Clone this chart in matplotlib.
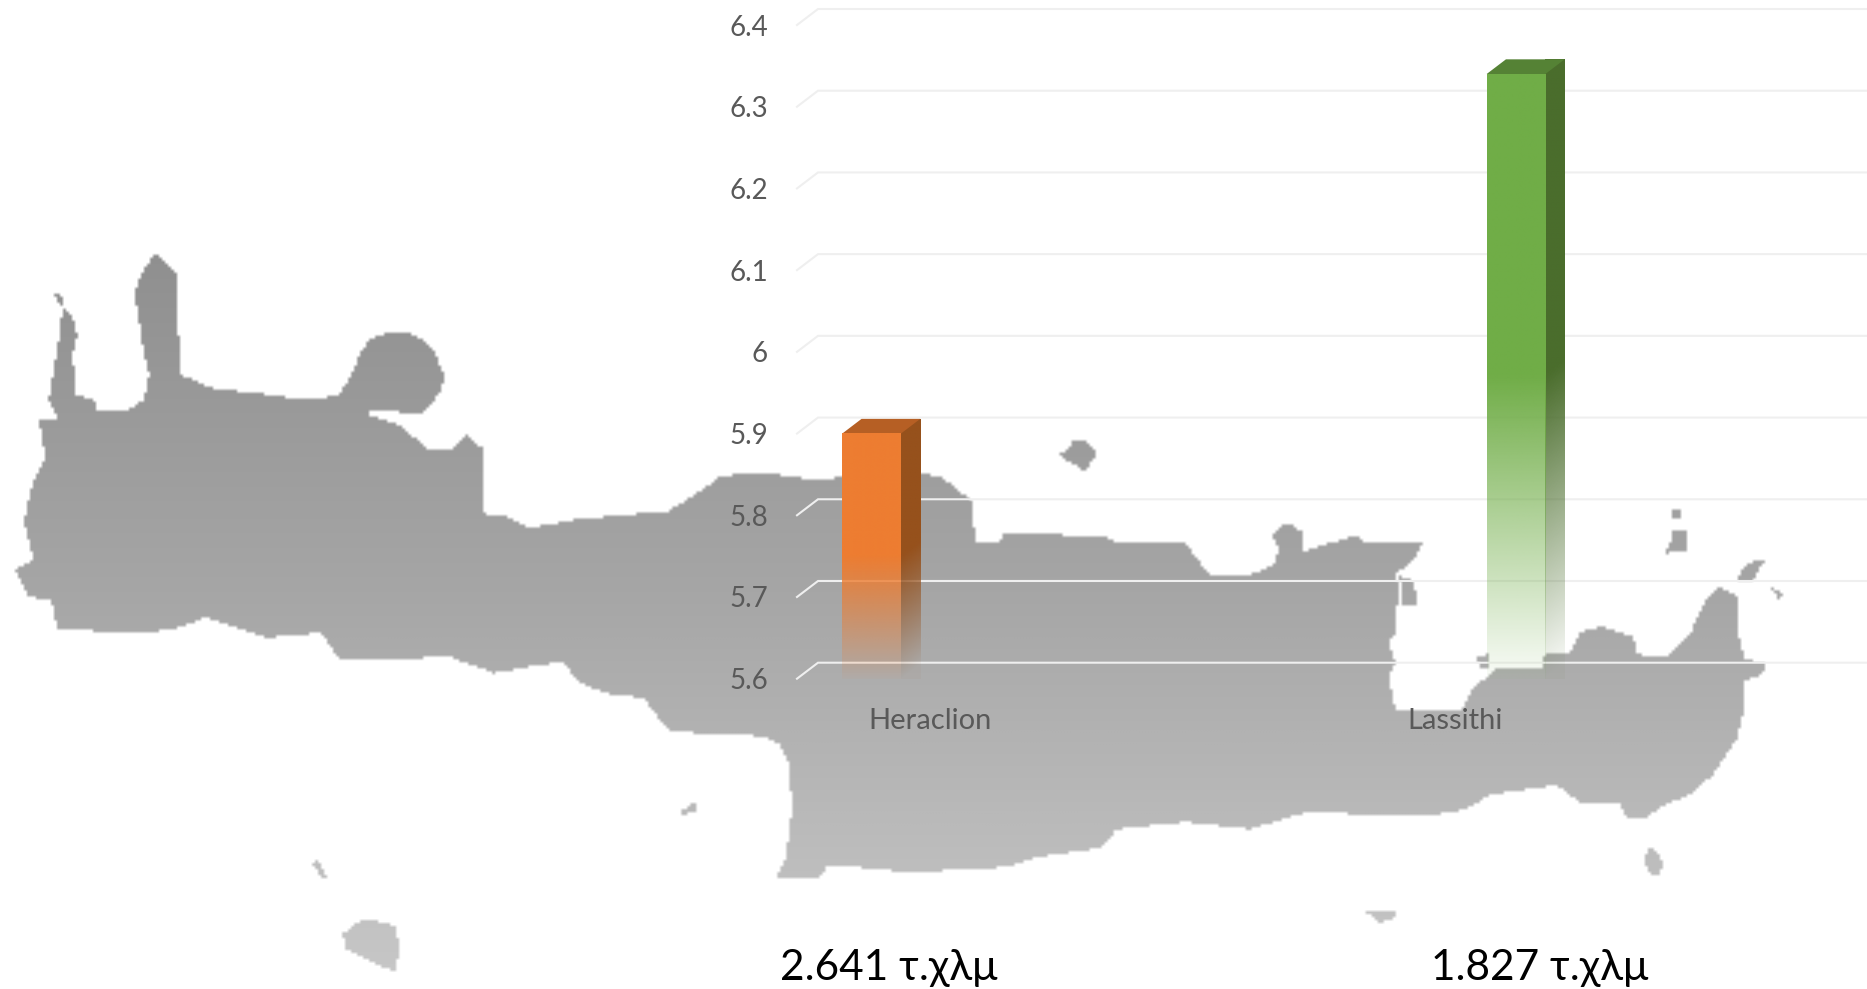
import numpy as np
import matplotlib
matplotlib.use("Agg")
import matplotlib.pyplot as plt
from matplotlib.path import Path
from matplotlib.patches import PathPatch
from matplotlib.colors import to_rgb, LinearSegmentedColormap

plt.rcParams['font.family'] = ['Lato', 'Noto Sans']

# ---- data ----
categories = ["Heraclion", "Lassithi"]
values = [5.90, 6.34]
areas = ["2.641 τ.χλμ", "1.827 τ.χλμ"]
y_ticks = [5.6, 5.7, 5.8, 5.9, 6.0, 6.1, 6.2, 6.3, 6.4]
y_labels = ["5.6", "5.7", "5.8", "5.9", "6", "6.1", "6.2", "6.3", "6.4"]

front_colors = ["#ED7D31", "#70AD47"]
side_colors = ["#96511C", "#4A6D2C"]
top_colors = ["#B65F24", "#558235"]

W, H = 1867, 989
S = W / 1568.0  # outline was traced on a 1568 px wide view

crete = [(53,258),(61,268),(65,281),(61,299),(64,332),(79,336),(81,345),(107,345),(121,336),(125,315),
 (120,291),(113,246),(120,228),(130,213),(149,230),(148,254),(152,315),(176,326),(219,331),(255,336),
 (283,333),(294,318),(303,296),(312,284),(330,279),(345,281),(358,288),(366,298),(373,317),(369,330),
 (362,341),(353,349),(326,345),(304,347),
 (336,358),(361,379),(377,379),(392,366),(405,377),(407,434),(425,434),(443,444),(489,436),(560,430),
 (585,415),(606,400),(641,397),(680,403),(773,398),(791,401),(803,412),(815,420),(819,455),(839,456),
 (842,448),(929,451),(935,456),(994,455),(1016,485),(1046,485),(1070,474),(1074,461),(1067,450),(1081,439),
 (1093,447),(1093,464),(1138,450),(1144,455),(1195,455),(1186,472),(1171,483),(1174,494),(1171,532),(1166,539),
 (1171,557),(1166,570),(1171,596),(1228,596),(1237,578),(1258,561),(1294,562),(1294,551),(1318,548),(1327,531),
 (1345,527),(1371,535),(1374,550),(1398,553),(1419,532),(1434,501),(1443,494),(1458,501),(1458,526),(1464,554),
 (1482,558),(1479,567),(1464,572),(1464,596),(1458,621),(1437,652),(1419,668),(1398,676),(1383,687),(1366,688),
 (1360,676),(1327,675),(1306,660),(1252,668),(1228,681),(1198,686),(1096,683),(1049,697),(995,691),(938,697),
 (923,713),(869,721),(845,729),(791,732),(750,732),(696,727),(687,738),(651,738),(660,720),(665,680),
 (662,640),(654,625),(641,619),(601,617),(562,615),(540,587),(509,583),(486,574),(473,556),(448,560),
 (415,566),(377,552),(336,554),(285,554),(270,532),(224,536),(173,519),(143,530),(97,532),(48,528),
 (43,505),(23,501),(13,479),(28,470),(20,438),(28,405),(38,385),(33,354),(48,352),(41,336),(48,295)]
islets = [
 [(902,370),(908,369),(918,377),(921,385),(914,388),(913,397),(906,393),(889,383),(897,376)],
 [(288,785),(305,772),(331,778),(336,797),(331,817),(313,809),(290,797)],
 [(262,725),(267,724),(275,738),(270,738)],
 [(569,683),(585,674),(586,681),(573,685)],
 [(1147,767),(1174,765),(1170,772),(1158,776)],
 [(1380,724),(1384,712),(1388,714),(1397,725),(1391,738),(1384,733)],
 [(1404,445),(1415,445),(1415,464),(1398,465),(1403,455)],
 [(1404,428),(1410,428),(1410,436),(1404,436)],
 [(1457,487),(1464,478),(1473,470),(1481,472),(1470,490)],
 [(1487,494),(1500,502),(1492,503)],
 [(1175,484),(1186,488),(1191,510),(1177,510)],
 [(1240,552),(1250,550),(1250,561),(1242,561)],
 [(45,245),(53,250),(54,256),(50,256)],
]

fig = plt.figure(figsize=(W / 100, H / 100), dpi=100, facecolor="white")

# ---- background map: coarse-pixel mask with vertical grey gradient ----
bg = fig.add_axes([0, 0, 1, 1], zorder=0)
bg.set_axis_off()
verts, codes = [], []
for poly in [crete] + islets:
    pts = [(x * S, y * S) for x, y in poly]
    verts += pts + [pts[0]]
    codes += [Path.MOVETO] + [Path.LINETO] * (len(pts) - 1) + [Path.CLOSEPOLY]
map_path = Path(verts, codes)
CELL = 3
gx, gy = np.meshgrid(np.arange(CELL / 2, W, CELL), np.arange(CELL / 2, H, CELL))
mask = map_path.contains_points(np.column_stack([gx.ravel(), gy.ravel()])).reshape(gx.shape)
cmap = LinearSegmentedColormap.from_list("g", [(0, "#8a8a8a"), (0.25, "#8f8f8f"), (0.6, "#a6a6a6"), (1, "#c8c8c8")])
rgba = cmap(gy / H)
rgba[..., 3] = mask.astype(float)
bg.imshow(rgba, extent=(0, W, H, 0), aspect="auto", zorder=1, origin="upper", interpolation="bilinear")
bg.set_xlim(0, W)
bg.set_ylim(H, 0)

# ---- chart axes: front plane of the 3-D chart ----
LEFT_PX, PX0, PX1 = 797.0, 871.6, 1516.0
TOP_PX, BOT_PX = 25.0, 678.7
ax = fig.add_axes([LEFT_PX / W, 1 - BOT_PX / H, (W - LEFT_PX) / W, (BOT_PX - TOP_PX) / H], zorder=2)
ax.patch.set_alpha(0)
for s in ax.spines.values():
    s.set_visible(False)
xlim = ((LEFT_PX - PX0) / (PX1 - PX0), (W - PX0) / (PX1 - PX0))
ylim = (y_ticks[0], y_ticks[-1])
px_x = PX1 - PX0
px_y = (BOT_PX - TOP_PX) / (ylim[1] - ylim[0])

# gridlines (back wall + floor diagonal)
gdx, gdy = 21 / px_x, 16 / px_y
for v in y_ticks:
    ax.plot([xlim[0], xlim[0] + gdx, xlim[1]], [v, v + gdy, v + gdy], color="#efefef", lw=1.5,
            clip_on=False, zorder=1, solid_joinstyle="miter")

# bars
bar_w = 58.7 / px_x
ddx, ddy = 19.3 / px_x, 14.7 / px_y
xs = np.arange(len(categories))
bars = ax.bar(xs, np.array(values) - ylim[0], bottom=ylim[0], width=bar_w, color="none", zorder=3)


def fade_alpha(t):
    """t = 0 at the foot of the bar, 1 at its top."""
    t = np.clip(t, 0, 1)
    return np.where(t >= 0.5, 1.0, 0.04 + 0.96 * t / 0.5)


def front_img(color, n=256):
    img = np.zeros((n, 1, 4))
    img[..., :3] = to_rgb(color)
    img[:, 0, 3] = fade_alpha(np.linspace(1, 0, n))
    return img


def side_img(color, base, val, n=400, m=24):
    # follows the parallelogram, so the fade runs along the slanted foot
    yy = np.linspace(val + ddy, base, n)[:, None]
    uu = np.linspace(0, 1, m)[None, :]
    img = np.zeros((n, m, 4))
    img[..., :3] = to_rgb(color)
    img[..., 3] = fade_alpha((yy - base - uu * ddy) / (val - base))
    return img


for rect, val, fc, sc, tc in zip(bars, values, front_colors, side_colors, top_colors):
    x0, x1 = rect.get_x(), rect.get_x() + rect.get_width()
    base = ylim[0]
    # front face
    ax.imshow(front_img(fc), extent=(x0, x1, base, val), aspect="auto", zorder=3.2, interpolation="bilinear")
    # side face
    side = PathPatch(Path([(x1, base), (x1 + ddx, base + ddy), (x1 + ddx, val + ddy), (x1, val), (x1, base)]),
                     transform=ax.transData, fc="none", ec="none")
    ax.add_patch(side)
    simg = ax.imshow(side_img(sc, base, val), extent=(x1, x1 + ddx, base, val + ddy), aspect="auto",
                     zorder=3.1, interpolation="bilinear", clip_on=False)
    simg.set_clip_path(side)
    # top face
    ax.fill([x0, x0 + ddx, x1 + ddx, x1], [val, val + ddy, val + ddy, val], color=tc, lw=0, zorder=3.1, clip_on=False)

ax.set_xlim(*xlim)
ax.set_ylim(*ylim)
ax.set_yticks(y_ticks)
ax.set_yticklabels(y_labels, fontsize=20, color="#595959")
ax.tick_params(axis="y", length=0, pad=21)
ax.set_xticks([0.0906, 0.905])
ax.set_xticklabels(categories, fontsize=21, color="#595959")
ax.tick_params(axis="x", length=0, pad=21)

# area captions
for cx, t in zip([889, 1540], areas):
    fig.text(cx / W, 1 - 968 / H, t, ha="center", va="center", fontsize=30.5, color="black")

fig.savefig("out.png", dpi=100, facecolor="white")
